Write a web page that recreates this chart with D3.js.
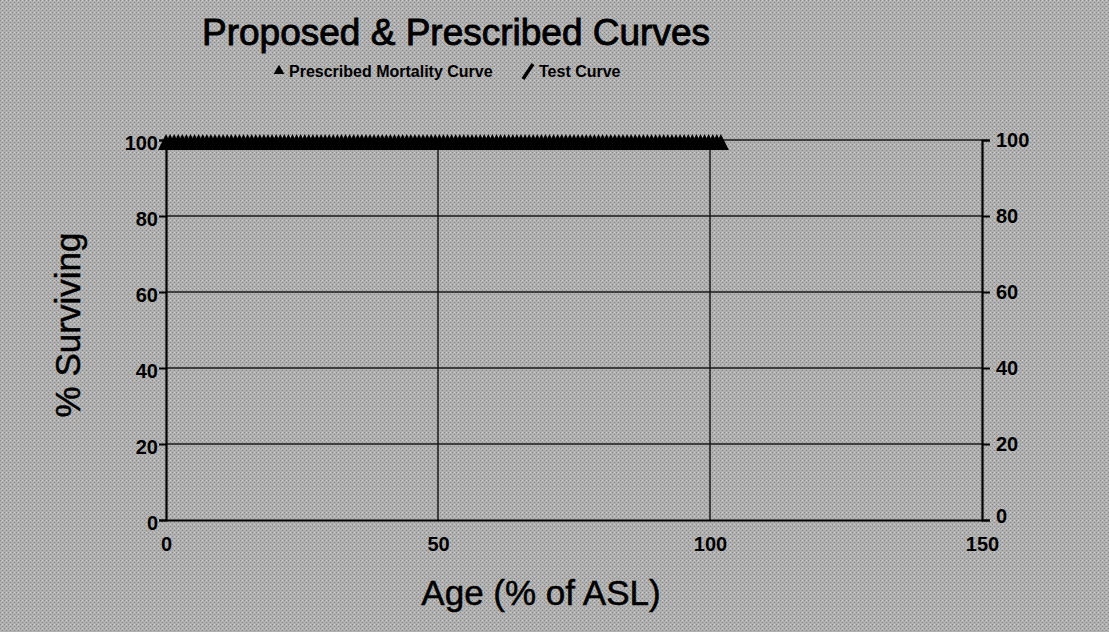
<!DOCTYPE html>
<html>
<head>
<meta charset="utf-8">
<script src="https://cdn.jsdelivr.net/npm/d3@7"></script>
<style>
html,body{margin:0;padding:0;background:#aaaaaa;}
svg{display:block;}
text{font-family:"Liberation Sans",Arial,sans-serif;fill:#000;}
</style>
</head>
<body>
<svg id="chart" width="1109" height="632"></svg>
<script>
// ---- data ----
const title = "Proposed & Prescribed Curves";
const xTitle = "Age (% of ASL)";
const yTitle = "% Surviving";
const legendLabels = ["Prescribed Mortality Curve", "Test Curve"];
const xTicks = [0, 50, 100, 150];
const yTicks = [0, 20, 40, 60, 80, 100];
const prescribedAges = [0,0.75,1.5,2.25,3,3.75,4.5,5.25,6,6.75,7.5,8.25,9,9.75,10.5,11.25,12,12.75,13.5,14.25,15,15.75,16.5,17.25,18,18.75,19.5,20.25,21,21.75,22.5,23.25,24,24.75,25.5,26.25,27,27.75,28.5,29.25,30,30.75,31.5,32.25,33,33.75,34.5,35.25,36,36.75,37.5,38.25,39,39.75,40.5,41.25,42,42.75,43.5,44.25,45,45.75,46.5,47.25,48,48.75,49.5,50.25,51,51.75,52.5,53.25,54,54.75,55.5,56.25,57,57.75,58.5,59.25,60,60.75,61.5,62.25,63,63.75,64.5,65.25,66,66.75,67.5,68.25,69,69.75,70.5,71.25,72,72.75,73.5,74.25,75,75.75,76.5,77.25,78,78.75,79.5,80.25,81,81.75,82.5,83.25,84,84.75,85.5,86.25,87,87.75,88.5,89.25,90,90.75,91.5,92.25,93,93.75,94.5,95.25,96,96.75,97.5,98.25,99,99.75,100.5,101.25,102];
const prescribedSurviving = prescribedAges.map(() => 100);
const testAges = [0, 102];
const testSurviving = [100, 100];

// ---- layout ----
const svg = d3.select("#chart");
const W = 1109, H = 632;

// background with subtle halftone texture
const defs = svg.append("defs");
const pat = defs.append("pattern").attr("id","ht").attr("width",4).attr("height",4).attr("patternUnits","userSpaceOnUse");
pat.append("rect").attr("width",4).attr("height",4).attr("fill","#b0b0b0");
pat.append("rect").attr("x",0).attr("y",0).attr("width",1).attr("height",1).attr("fill","#858585");
pat.append("rect").attr("x",2).attr("y",2).attr("width",1).attr("height",1).attr("fill","#858585");
pat.append("rect").attr("x",2).attr("y",0).attr("width",1).attr("height",1).attr("fill","#d0d0d0");
svg.append("rect").attr("width",W).attr("height",H).attr("fill","url(#ht)");

const x = d3.scaleLinear().domain([0,150]).range([166, 982]);
const y = d3.scaleLinear().domain([0,100]).range([520, 140]);

// gridlines
const grid = svg.append("g");
grid.selectAll("line.h").data(yTicks.filter(d => d > 0)).join("line")
  .attr("x1", x(0)).attr("x2", x(150))
  .attr("y1", d => y(d)).attr("y2", d => y(d))
  .attr("stroke","#1a1a1a").attr("stroke-width",1.5);
grid.selectAll("line.v").data(xTicks.filter(d => d > 0 && d < 150)).join("line")
  .attr("x1", d => x(d)).attr("x2", d => x(d))
  .attr("y1", y(0)).attr("y2", y(100))
  .attr("stroke","#1a1a1a").attr("stroke-width",1.5);

// axes
const fmt = d3.format("d");
const gx = svg.append("g").attr("transform",`translate(0,${y(0)})`)
  .call(d3.axisBottom(x).tickValues(xTicks).tickFormat(fmt).tickSize(0).tickPadding(17));
const gyL = svg.append("g").attr("transform",`translate(${x(0)},0)`)
  .call(d3.axisLeft(y).tickValues(yTicks).tickFormat(fmt).tickSize(7).tickPadding(1));
const gyR = svg.append("g").attr("transform",`translate(${x(150)},0)`)
  .call(d3.axisRight(y).tickValues(yTicks).tickFormat(fmt).tickSize(8).tickPadding(6));
[gx, gyL, gyR].forEach(g => {
  g.select(".domain").attr("stroke","#000").attr("stroke-width",2.2);
  g.selectAll(".tick line").attr("stroke","#000").attr("stroke-width",2);
  g.selectAll(".tick text").attr("font-size",20).attr("font-weight","bold")
    .attr("font-family","'Liberation Sans',Arial,sans-serif").attr("fill","#000");
});
gyL.selectAll(".tick text").attr("dy","0.45em");
gyR.selectAll(".tick text").attr("dy","0.3em");
gyR.selectAll(".tick").filter(d => d === 0).select("text").attr("dy","0.1em");

// test curve
svg.append("path")
  .datum(testAges.map((a,i) => [a, testSurviving[i]]))
  .attr("d", d3.line().x(d => x(d[0])).y(d => y(d[1])))
  .attr("stroke","#000").attr("stroke-width",8).attr("fill","none")
  .attr("transform","translate(0,4)");

// prescribed markers (triangle, bbox from -6 to +10 around the point)
const triPath = "M0,-6L8,10L-8,10Z";
svg.append("g").selectAll("path").data(prescribedAges).join("path")
  .attr("transform", (d,i) => `translate(${x(d)},${y(prescribedSurviving[i])})`)
  .attr("d", triPath).attr("fill","#000");

// title
svg.append("text").attr("x",456).attr("y",45).attr("text-anchor","middle")
  .attr("font-size",37).attr("stroke","#000").attr("stroke-width",0.9).text(title);

// legend
const lg = svg.append("g");
lg.append("path").attr("transform","translate(279,71)")
  .attr("d", d3.symbol().type(d3.symbolTriangle).size(50)).attr("fill","#000");
lg.append("text").attr("x",289).attr("y",77).attr("font-size",16).attr("font-weight","bold")
  .text(legendLabels[0]);
lg.append("line").attr("x1",523).attr("y1",79).attr("x2",533).attr("y2",64)
  .attr("stroke","#000").attr("stroke-width",3.5);
lg.append("text").attr("x",539).attr("y",77).attr("font-size",16).attr("font-weight","bold")
  .text(legendLabels[1]);

// axis titles
svg.append("text").attr("x",541).attr("y",605).attr("text-anchor","middle")
  .attr("font-size",35).attr("stroke","#000").attr("stroke-width",0.5).text(xTitle);
svg.append("text").attr("transform","translate(80,325) rotate(-90)").attr("text-anchor","middle")
  .attr("font-size",35).attr("stroke","#000").attr("stroke-width",0.5).text(yTitle);
</script>
</body>
</html>
